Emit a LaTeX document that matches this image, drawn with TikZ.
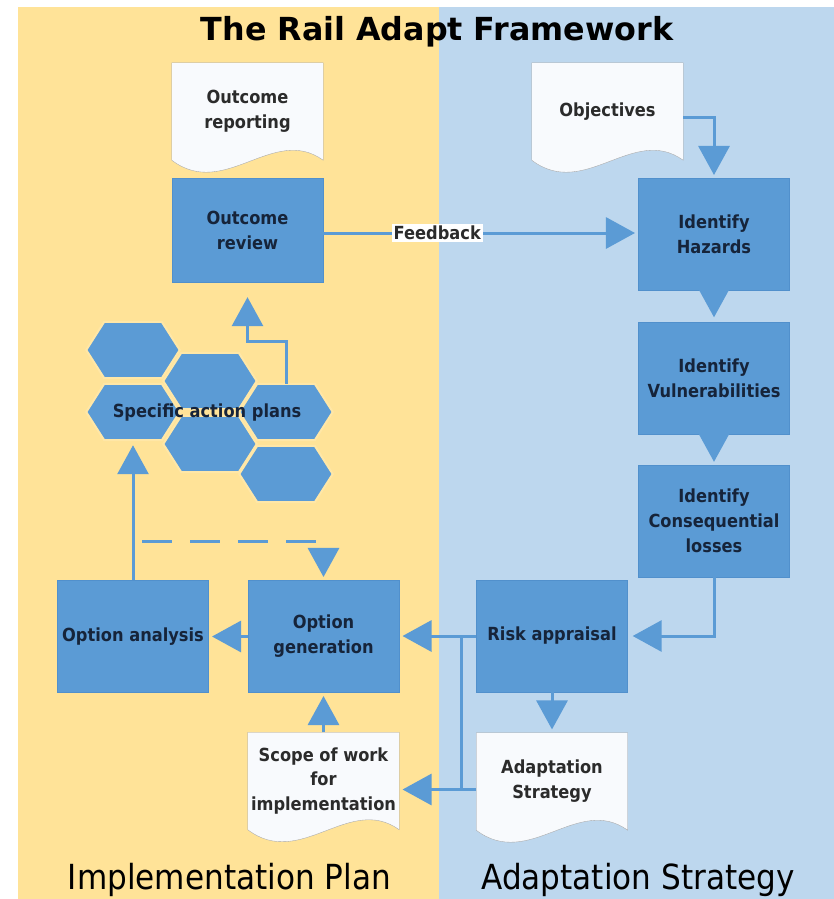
\documentclass[tikz,border=0pt]{standalone}
\usepackage{fontspec}
\usepackage{tikz}
\usetikzlibrary{arrows.meta,calc,backgrounds}
\setmainfont{DejaVu Sans}
\newfontfamily\narrowfont[FakeStretch=0.9]{DejaVu Sans}

\definecolor{planyellow}{HTML}{FFE398}
\definecolor{stratblue}{HTML}{BDD7EE}
\definecolor{stepblue}{HTML}{5B9BD5}
\definecolor{stepedge}{HTML}{5190CC}
\definecolor{stepink}{HTML}{16243A}
\definecolor{docwhite}{HTML}{F8FAFD}
\definecolor{docedge}{HTML}{A6A6A6}
\definecolor{docink}{HTML}{2B2B2B}

\tikzset{>={Triangle[length=8.7mm,width=9.3mm]}}
\tikzset{
  stepbox/.style={rectangle,fill=stepblue,draw=stepedge,line width=0.3pt,minimum width=45.3mm,minimum height=33.6mm,inner sep=0pt,align=center,text=stepink,font={\narrowfont\bfseries\fontsize{15.4pt}{21.3pt}\selectfont}},
  docbox/.style={rectangle,minimum width=45.3mm,minimum height=29.1mm,inner sep=0pt,align=center,text=docink,font={\narrowfont\bfseries\fontsize{15.4pt}{21.3pt}\selectfont}},
  hexcell/.style={rectangle,minimum width=27.9mm,minimum height=16.8mm,inner sep=0pt},
  flow/.style={->,draw=stepblue,line width=0.9mm,shorten >=1mm},
  link/.style={draw=stepblue,line width=0.9mm}
}

\begin{document}
\begin{tikzpicture}[line cap=butt,line join=miter,x=0.3mm,y=-0.3mm]
		\useasboundingbox (0,0) rectangle (834,899);
		% headings
		\node[anchor=base,font={\bfseries\fontsize{27.1pt}{30pt}\selectfont}] (title) at (437,40) {The Rail Adapt Framework};
		\node[anchor=base,font={\narrowfont\fontsize{29.5pt}{32pt}\selectfont}] (planlabel) at (229.5,889) {Implementation Plan};
		\node[anchor=base,font={\narrowfont\fontsize{29.5pt}{32pt}\selectfont}] (stratlabel) at (638,889) {Adaptation Strategy};
		% documents
		\node[docbox] (outrep) at (247.5,111.5) {Outcome\\reporting};
		\node[docbox] (objs) at (607.5,111.5) {Objectives};
		\node[docbox] (scope) at (323.5,781) {Scope of work\\for\\implementation};
		\node[docbox] (adapt) at (552,781.5) {Adaptation\\Strategy};
		% process steps
		\node[stepbox,minimum height=31.2mm] (outrev) at (247.5,230) {Outcome\\review};
		\node[stepbox] (hazards) at (714,234.5) {Identify\\Hazards};
		\node[stepbox] (vulns) at (714,378.5) {Identify\\Vulnerabilities};
		\node[stepbox] (conseq) at (714,521) {Identify\\Consequential\\losses};
		\node[stepbox] (risk) at (552,636) {Risk appraisal};
		\node[stepbox] (optgen) at (323.5,636.5) {Option\\generation};
		\node[stepbox] (optana) at (133,636.5) {Option analysis};
		% honeycomb of action plans
		\foreach \n/\x/\y in {1/133/350,2/133/412,3/210/381,4/210/444,5/286/412,6/286/474}{
			\node[hexcell] (hex\n) at (\x,\y) {};
			\filldraw[fill=stepblue,draw=planyellow!85!white,line width=0.6mm] (hex\n.west) -- ($(hex\n.north west)+(18,0)$) -- ($(hex\n.north east)+(-18,0)$) -- (hex\n.east) -- ($(hex\n.south east)+(-18,0)$) -- ($(hex\n.south west)+(18,0)$) -- cycle;
		}
		\node[text=stepink,font={\narrowfont\bfseries\fontsize{15.4pt}{21.3pt}\selectfont}] (actionplans) at (207,413) {Specific action plans};
		% connectors
		\draw[flow] ($(outrev.east)+(0,3)$) -- ($(outrev.east -| hazards.west)+(0,3)$) node[pos=0.362,fill=white,inner sep=1.5pt,text=docink,font={\narrowfont\bfseries\fontsize{15.4pt}{18pt}\selectfont}] (fb) {Feedback};
		\draw[flow] ($(objs.east)+(0,6)$) -| (hazards.north);
		\draw[flow,shorten >=1.5mm] (hazards) -- (vulns);
		\draw[flow,shorten >=0.9mm] (vulns) -- (conseq);
		\draw[flow,shorten >=1.5mm] (conseq.south) |- (risk.east);
		\draw[flow] (risk.west) -- (risk.west -| optgen.east);
		\coordinate (split) at ($(risk.west)+(-15,0)$);
		\coordinate (adaptout) at ($(adapt.west)+(0,8)$);
		\draw[link] (split) -- (split |- adaptout);
		\draw[flow] (adaptout) -- (adaptout -| scope.east);
		\draw[flow] (risk) -- (adapt);
		\draw[flow] (scope) -- (optgen);
		\draw[flow] (optgen) -- (optana);
		\draw[flow,shorten >=1.5mm] (optana.north) -- (hex2.south);
		\coordinate (dashstart) at (142,541);
		\draw[flow,dash pattern=on 9mm off 5.4mm] (dashstart) -| (optgen.north);
		\draw[flow,shorten >=4.5mm] (hex5.north) -- ++(0,-42) -| (outrev.south);
		% panels and document sheets
		\begin{scope}[on background layer]
			\fill[planyellow] (18,7) rectangle (439,899);
			\fill[stratblue] (439,7) rectangle (834,899);
			\foreach \d in {outrep,objs,scope,adapt}
				\filldraw[fill=docwhite,draw=docedge,line width=0.3pt] (\d.north west) -- (\d.north east) -- (\d.south east) .. controls +(-50,-36) and +(53,40) .. (\d.south west) -- cycle;
		\end{scope}
\end{tikzpicture}
\end{document}
